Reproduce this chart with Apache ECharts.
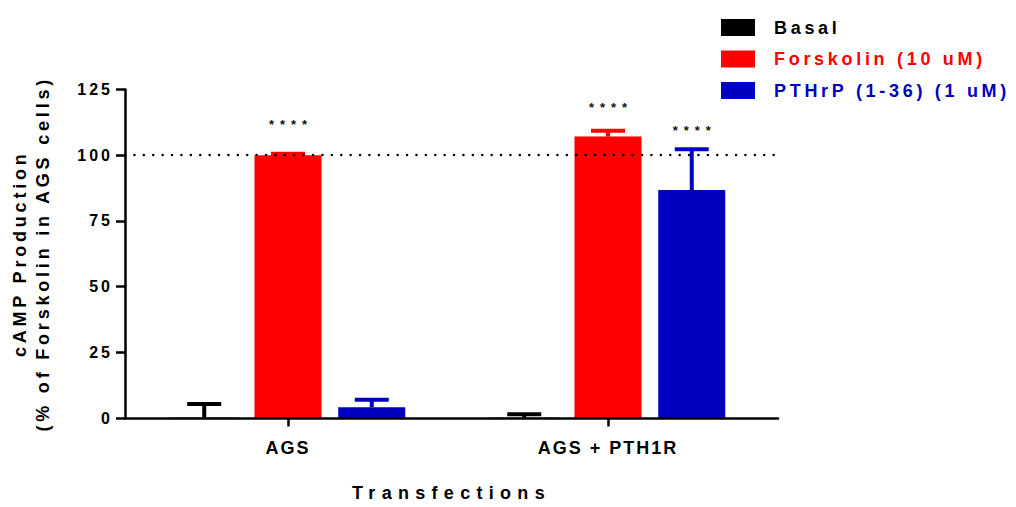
<!DOCTYPE html>
<html>
<head>
<meta charset="utf-8">
<script src="https://cdn.jsdelivr.net/npm/echarts@6/dist/echarts.min.js"></script>
<style>
  html, body { margin: 0; padding: 0; background: #fff; }
  #main { width: 1016px; height: 507px; }
  #main text[style*="Arial"] { letter-spacing: 3px; }
  #main text[style*="Arimo"] { letter-spacing: 2px; }
  #main text[style*="Helvetica"] { letter-spacing: 3.8px; }
  #main text[style*="Nimbus"] { letter-spacing: 6.3px; }
  #main text[style*="FreeSans"] { letter-spacing: 3.7px; }
  #main text[style*="Albany"] { letter-spacing: 6px; }
</style>
</head>
<body>
<div id="main"></div>
<script>
// ---- data ----
const categories = ['AGS', 'AGS + PTH1R'];
const seriesNames = ['Basal', 'Forskolin (10 uM)', 'PTHrP (1-36) (1 uM)'];
const basalMean = [0.3, 0.3];
const basalErr = [5.2, 1.3];
const forskMean = [100, 107.1];
const forskErr = [0.6, 2.2];
const pthrpMean = [4.25, 86.8];
const pthrpErr = [2.85, 15.5];
const yMin = 0, yMax = 125, yStep = 25;
const refLine = 100;
const starCat = [0, 1, 1];
const starSeries = [1, 1, 2];
const starY = [111.6, 118.0, 109.6];
const starText = '****';
const xTitle = 'Transfections';
const yTitle = 'cAMP Production\n(% of Forskolin in AGS cells)';

// ---- style ----
const colors = ['#000000', '#FF0000', '#0000C0'];
const BAR_W = 67, GAP_RATIO = 0.25, CAP_HALF = 17, ERR_W = 4;
const FF = 'Liberation Sans';
const means = [basalMean, forskMean, pthrpMean];
const errs = [basalErr, forskErr, pthrpErr];

function offsetFor(k) { return (k - 1) * BAR_W * (1 + GAP_RATIO); }

const chart = echarts.init(document.getElementById('main'), null, { renderer: 'svg' });

const series = [];
// reference dotted line (grid 0)
series.push({
  type: 'line', xAxisIndex: 0, yAxisIndex: 0, data: [], z: 1, silent: true,
  markLine: {
    silent: true, symbol: 'none', label: { show: false },
    lineStyle: { color: '#000', width: 2.4, type: [0.1, 9.3], cap: 'round' },
    data: [{ yAxis: refLine }]
  }
});
seriesNames.forEach((nm, k) => {
  series.push({
    name: nm, type: 'bar', xAxisIndex: 1, yAxisIndex: 1,
    barWidth: BAR_W, barGap: (GAP_RATIO * 100) + '%', z: 2,
    itemStyle: { color: colors[k] },
    data: means[k]
  });
});
seriesNames.forEach((nm, k) => {
  series.push({
    type: 'custom', xAxisIndex: 1, yAxisIndex: 1, z: 3, silent: true,
    data: categories.map((c, i) => [i, means[k][i], errs[k][i]]),
    renderItem: function (params, api) {
      const ci = api.value(0), m = api.value(1), e = api.value(2);
      const b = api.coord([ci, m]);
      const t = api.coord([ci, m + e]);
      const x = b[0] + offsetFor(k);
      return { type: 'group', children: [
        { type: 'line', shape: { x1: x, y1: b[1], x2: x, y2: t[1] }, style: { stroke: colors[k], lineWidth: ERR_W } },
        { type: 'line', shape: { x1: x - CAP_HALF, y1: t[1], x2: x + CAP_HALF, y2: t[1] }, style: { stroke: colors[k], lineWidth: ERR_W } }
      ] };
    }
  });
});
series.push({
  type: 'custom', xAxisIndex: 1, yAxisIndex: 1, z: 4, silent: true,
  data: starCat.map((c, i) => [c, starY[i], starSeries[i]]),
  renderItem: function (params, api) {
    const p = api.coord([api.value(0), api.value(1)]);
    const x = p[0] + offsetFor(api.value(2));
    return { type: 'text', x: x + 3, y: p[1], style: {
      text: starText, fill: '#111', fontSize: 13, fontWeight: 'bold',
      fontFamily: FF + ', Albany', align: 'center', verticalAlign: 'middle' } };
  }
});

chart.setOption({
  animation: false,
  backgroundColor: '#fff',
  legend: {
    orient: 'vertical', left: 721, top: 18.5, padding: 0,
    itemWidth: 34, itemHeight: 17, itemGap: 13.5, icon: 'rect',
    textStyle: { fontSize: 18, fontWeight: 'bold', fontFamily: FF + ', FreeSans', padding: [0, 0, 0, 14] },
    data: seriesNames.map((n, k) => ({ name: n, textStyle: { color: colors[k] } }))
  },
  grid: [
    { left: 118, width: 660, top: 89.5, height: 329 },
    { left: 128, width: 640, top: 89.5, height: 329 }
  ],
  xAxis: [
    { gridIndex: 0, type: 'value', min: 0, max: 1, z: 10,
      axisLine: { show: true, lineStyle: { color: '#000', width: 2.5 } },
      axisTick: { show: false }, axisLabel: { show: false }, splitLine: { show: false },
      name: xTitle, nameLocation: 'middle', nameGap: 66,
      nameTextStyle: { fontSize: 18, fontWeight: 'bold', color: '#000', fontFamily: FF + ', Nimbus Sans' } },
    { gridIndex: 1, type: 'category', data: categories,
      axisLine: { show: false },
      axisTick: { show: true, alignWithLabel: true, length: 8, lineStyle: { color: '#000', width: 2.5 } },
      axisLabel: { margin: 20.5, fontSize: 18, fontWeight: 'bold', color: '#000', fontFamily: FF + ', Arimo' } }
  ],
  yAxis: [
    { gridIndex: 0, type: 'value', min: yMin, max: yMax, interval: yStep,
      axisLine: { show: true, lineStyle: { color: '#000', width: 2.5 } },
      axisTick: { show: true, length: 9, lineStyle: { color: '#000', width: 2.5 } },
      axisLabel: { margin: 12, fontSize: 16, fontWeight: 'bold', color: '#000', fontFamily: FF + ', Arial' },
      splitLine: { show: false },
      name: yTitle, nameLocation: 'middle', nameGap: 71, nameRotate: 90,
      nameTextStyle: { fontSize: 18, lineHeight: 23, fontWeight: 'bold', color: '#000', fontFamily: FF + ', Helvetica', align: 'center' } },
    { gridIndex: 1, type: 'value', min: yMin, max: yMax, show: false }
  ],
  series: series
});
</script>
</body>
</html>
